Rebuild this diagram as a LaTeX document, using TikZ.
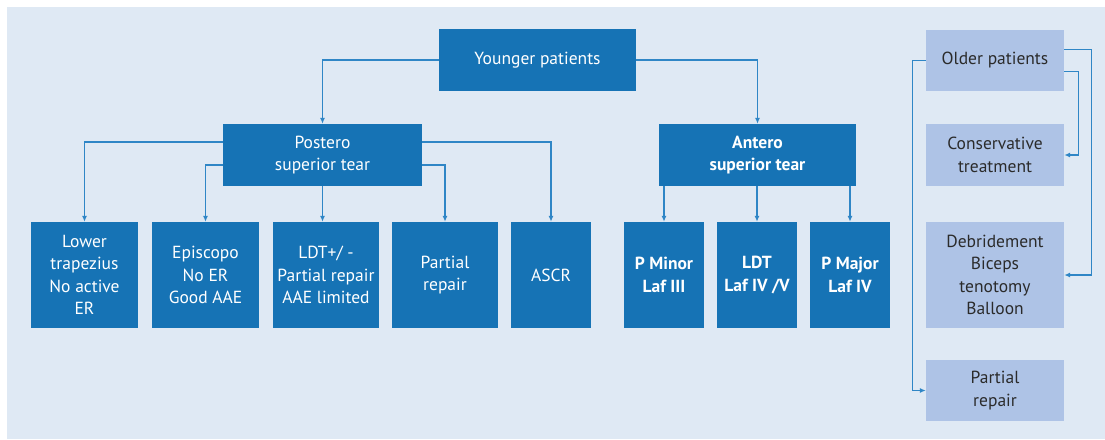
\documentclass[tikz,border=0pt]{standalone}
\usepackage{fontspec}
\setmainfont{PT Sans}
\usetikzlibrary{arrows.meta}
\definecolor{bg}{HTML}{DFE9F4}
\definecolor{dblue}{HTML}{1673B5}
\definecolor{lblue}{HTML}{AEC3E6}
\definecolor{lcol}{HTML}{2F86C6}
\definecolor{dtext}{HTML}{2B2B2B}
\begin{document}
\begin{tikzpicture}[x=1pt,y=-1pt,
  dbox/.style={fill=dblue,text=white,align=center,inner sep=0pt,font=\fontsize{17.5}{22.5}\selectfont},
  bbox/.style={dbox,font=\fontsize{17.5}{22.5}\selectfont\bfseries},
  lbox/.style={fill=lblue,text=dtext,align=center,inner sep=0pt,minimum width=138pt,font=\fontsize{17.5}{22.5}\selectfont},
  conn/.style={draw=lcol,line width=1.3pt,-{Latex[length=6pt,width=5pt]}}]
\useasboundingbox (0,0) rectangle (1105,439);
\fill[white] (0,0) rectangle (1105,439);
\fill[bg] (7,7) rectangle (1105,439);
% top level
\node[dbox,minimum width=197pt,minimum height=62pt] (young) at (537.5,60) {Younger patients};
\node[dbox,minimum width=199pt,minimum height=62pt] (post) at (322.5,155) {Postero\\superior tear};
\node[bbox,minimum width=197pt,minimum height=62pt] (ant) at (757.5,155) {Antero\\superior tear};
% bottom row
\node[dbox,minimum width=107pt,minimum height=106pt] (lt) at (84.5,275) {Lower\\trapezius\\No active\\ER};
\node[dbox,minimum width=107pt,minimum height=106pt] (epi) at (205.5,275) {Episcopo\\No ER\\Good AAE};
\node[dbox,minimum width=106pt,minimum height=106pt] (ldt) at (326,275) {LDT+/ -\\Partial repair\\AAE limited};
\node[dbox,minimum width=106pt,minimum height=106pt] (pr) at (445,275) {Partial\\repair};
\node[dbox,minimum width=80pt,minimum height=106pt] (ascr) at (551,275) {ASCR};
\node[bbox,minimum width=80pt,minimum height=106pt] (pmin) at (664,275) {P Minor\\Laf III};
\node[bbox,minimum width=80pt,minimum height=106pt] (ldtb) at (757,275) {LDT\\Laf IV /V};
\node[bbox,minimum width=80pt,minimum height=106pt] (pmaj) at (850,275) {P Major\\Laf IV};
% right column
\node[lbox,minimum height=61pt] (older) at (995,60.5) {Older patients};
\node[lbox,minimum height=62pt] (cons) at (995,155) {Conservative\\treatment};
\node[lbox,minimum height=106pt] (deb) at (995,275) {Debridement\\Biceps\\tenotomy\\Balloon};
\node[lbox,minimum height=61pt] (pr2) at (995,390.5) {Partial\\repair};
% connectors
\draw[conn] (young.west) -| (post.north);
\draw[conn] (young.east) -| (ant.north);
\draw[conn] ([yshift=13pt]post.west) -| (lt.north);
\draw[conn] ([yshift=-10pt]post.west) -| (epi.north);
\draw[conn] (post.south) -- (post.south |- ldt.north);
\draw[conn] ([yshift=-10pt]post.east) -| (pr.north);
\draw[conn] ([yshift=13pt]post.east) -| (ascr.north);
\draw[conn] (pmin.north |- ant.south) -- (pmin.north);
\draw[conn] (ldtb.north |- ant.south) -- (ldtb.north);
\draw[conn] (pmaj.north |- ant.south) -- (pmaj.north);
\draw[conn] (older.west) -- ++(-13,0) |- (pr2.west);
\draw[conn] ([yshift=11pt]older.east) -- ++(27,0) |- (deb.east);
\draw[conn] ([yshift=-11pt]older.east) -- ++(14,0) |- (cons.east);
\end{tikzpicture}
\end{document}
